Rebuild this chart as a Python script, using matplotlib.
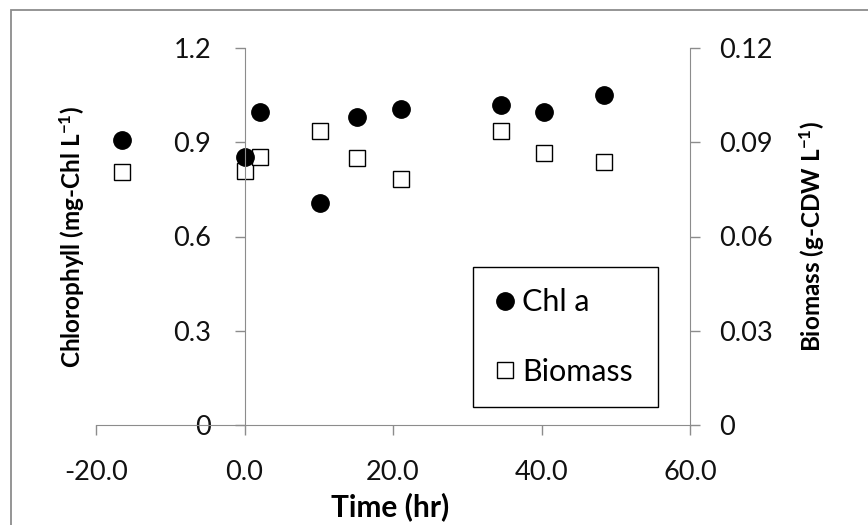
import numpy as np
import matplotlib
matplotlib.use("Agg")
import matplotlib.pyplot as plt
from matplotlib.patches import Rectangle

plt.rcParams['font.family'] = ['Lato', 'DejaVu Sans']
plt.rcParams['axes.unicode_minus'] = False
plt.rcParams['mathtext.fontset'] = 'custom'
plt.rcParams['mathtext.rm'] = 'Lato'
plt.rcParams['mathtext.bf'] = 'Lato:bold'
plt.rcParams['mathtext.default'] = 'bf'

# sampling times (hr)
time_chl = [-16.5, 0.0, 2.1, 10.2, 15.1, 21.1, 34.6, 40.3, 48.4]
chl_a = [0.907, 0.853, 0.996, 0.707, 0.980, 1.006, 1.019, 0.996, 1.050]

time_bio = [-16.5, 0.0, 2.1, 10.2, 15.1, 21.1, 34.6, 40.3, 48.4]
biomass = [0.0805, 0.0810, 0.0853, 0.0936, 0.0850, 0.0783, 0.0936, 0.0866, 0.0837]

x_ticks = [-20, 0, 20, 40, 60]
x_labels = ["-20.0", "0.0", "20.0", "40.0", "60.0"]
chl_ticks = [0, 0.3, 0.6, 0.9, 1.2]
chl_labels = ["0", "0.3", "0.6", "0.9", "1.2"]
bio_ticks = [0, 0.03, 0.06, 0.09, 0.12]
bio_labels = ["0", "0.03", "0.06", "0.09", "0.12"]

grey = "#8c8c8c"
fs = 19.5

fig = plt.figure(figsize=(8.68, 5.25), dpi=100)
ax = fig.add_axes([96/868, 1 - 425/525, 594/868, 377/525])
ax2 = ax.twinx()

# outer chart border
fig.patches.append(Rectangle((11/868, -0.1), 1.2, 1.1 - 10/525, transform=fig.transFigure,
                             fill=False, edgecolor=grey, linewidth=1.3))

p1, = ax.plot(time_chl, chl_a, 'o', color='black', markersize=12.5, label='Chl a')
p2, = ax2.plot(time_bio, biomass, 's', markerfacecolor='white', markeredgecolor='black',
               markeredgewidth=1.0, markersize=12, label='Biomass')

ax.set_zorder(ax2.get_zorder() + 1)
ax.patch.set_visible(False)

ax.set_xlim(-20, 60)
ax.set_ylim(0, 1.2)
ax2.set_ylim(0, 0.12)

ax.spines['left'].set_position(('data', 0))
ax.spines['top'].set_visible(False)
ax.spines['right'].set_visible(False)
for s in ['left', 'top', 'bottom']:
    ax2.spines[s].set_visible(False)
for s in ['left', 'bottom']:
    ax.spines[s].set_color(grey)
ax2.spines['right'].set_color(grey)

ax.set_xticks(x_ticks)
ax.set_xticklabels(x_labels)
ax.set_yticks(chl_ticks)
ax.set_yticklabels(chl_labels)
ax2.set_yticks(bio_ticks)
ax2.set_yticklabels(bio_labels)

ax.tick_params(axis='both', direction='out', length=7, width=1, color=grey,
               labelsize=fs, labelcolor='#111111')
ax.tick_params(axis='x', pad=18)
ax.tick_params(axis='y', pad=17)
ax2.tick_params(axis='y', direction='out', length=7, width=1, color=grey,
                labelsize=fs, labelcolor='#111111', pad=14)

ax.set_xlabel("Time (hr)", fontsize=21.5, fontweight='bold', va='center')
ax.xaxis.set_label_coords(0.495, -0.2175)
ax.set_ylabel("Chlorophyll (mg-Chl L$^{-1}$)", fontsize=17.5, fontweight='bold', va='center')
ax.yaxis.set_label_coords(-0.0404, 0.5)
ax2.set_ylabel("Biomass (g-CDW L$^{-1}$)", fontsize=17.5, fontweight='bold', va='center')
ax2.yaxis.set_label_coords(1.2054, 0.5)

leg = ax.legend([p1, p2], ['Chl a', 'Biomass'], loc='lower left',
                bbox_to_anchor=(0.635, 0.048, 0.311, 0.368), mode='expand',
                fontsize=22, frameon=True, fancybox=False, edgecolor='black',
                framealpha=1, handlelength=0.7, handletextpad=0.2,
                labelspacing=1.35, borderpad=0.7, borderaxespad=0, numpoints=1)
leg.get_frame().set_linewidth(1.0)

fig.savefig("out.png", dpi=100)
